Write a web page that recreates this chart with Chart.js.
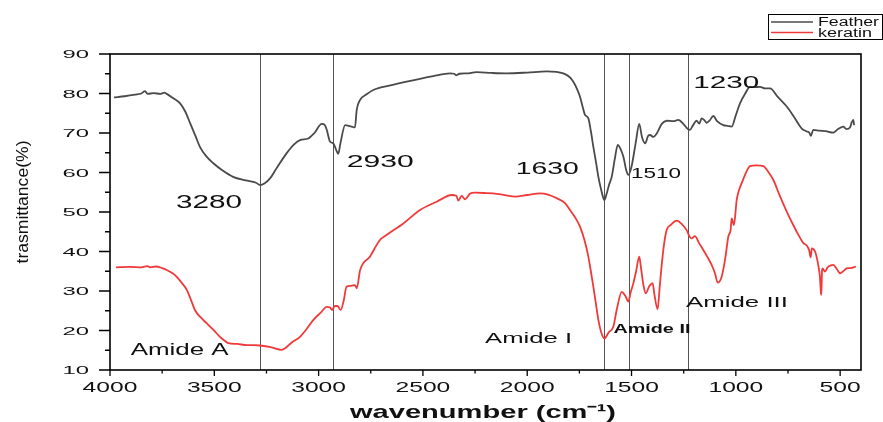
<!DOCTYPE html>
<html>
<head>
<meta charset="utf-8">
<script src="https://cdn.jsdelivr.net/npm/chart.js@4/dist/chart.umd.min.js"></script>
<style>
html,body{margin:0;padding:0;background:#fff;}
#wrap{width:883px;height:422px;position:relative;}
</style>
</head>
<body>
<div id="wrap"><canvas id="c" width="883" height="422"></canvas></div>
<script>
// ---- data (wavenumber cm-1, transmittance %) ----
const featherPoints = [[3981,79.0],[3930,79.3],[3880,79.7],[3850,80.0],[3832,80.6],[3820,79.9],[3790,80.1],[3760,79.9],[3740,80.2],[3728,79.9],[3700,78.9],[3664,77.5],[3640,75.5],[3616,72.5],[3590,69.2],[3569,66.5],[3540,64.2],[3506,62.4],[3460,60.5],[3410,58.9],[3350,58.0],[3300,57.4],[3280,56.8],[3260,57.2],[3233,58.5],[3200,61.2],[3153,64.9],[3120,67.0],[3089,68.2],[3050,68.6],[3020,70.0],[2985,72.3],[2970,72.0],[2961,70.8],[2945,67.8],[2930,67.4],[2915,65.6],[2906,64.7],[2895,67.5],[2873,72.0],[2855,71.8],[2841,71.6],[2826,71.4],[2817,76.0],[2801,78.4],[2770,79.8],[2738,80.9],[2650,82.1],[2578,83.0],[2450,84.4],[2370,85.1],[2350,85.0],[2341,84.6],[2325,85.0],[2290,85.1],[2243,85.4],[2170,85.2],[2099,85.1],[2000,85.3],[1907,85.6],[1860,85.5],[1827,85.1],[1800,84.3],[1779,83.0],[1760,81.0],[1747,79.2],[1735,76.8],[1723,74.6],[1707,73.7],[1695,70.5],[1683,66.5],[1670,62.5],[1659,58.9],[1645,55.5],[1635,53.5],[1630,53.0],[1620,54.5],[1607,57.0],[1595,58.9],[1580,63.5],[1566,67.0],[1553,66.0],[1539,64.0],[1525,60.5],[1515,59.4],[1500,61.5],[1480,67.5],[1463,72.3],[1450,69.0],[1435,67.4],[1420,69.3],[1411,69.5],[1395,69.0],[1379,69.9],[1355,72.3],[1331,73.1],[1300,73.0],[1276,73.3],[1250,72.2],[1230,71.0],[1220,70.8],[1205,72.0],[1188,73.1],[1175,72.4],[1164,73.7],[1150,73.2],[1140,72.6],[1125,73.2],[1108,74.3],[1090,73.0],[1060,72.0],[1040,71.8],[1020,71.6],[1000,74.5],[980,77.5],[955,80.0],[932,81.7],[910,81.6],[884,81.7],[860,81.3],[836,81.3],[800,79.2],[756,76.7],[720,74.0],[685,71.2],[660,70.4],[648,70.1],[640,69.3],[629,70.8],[600,70.6],[570,70.5],[533,70.1],[510,71.0],[485,71.6],[470,71.0],[453,71.4],[445,72.6],[437,73.3],[433,72.0]];

const keratinPoints = [[3971,36.0],[3900,36.1],[3850,36.0],[3820,36.3],[3808,36.0],[3780,36.2],[3750,35.8],[3728,35.3],[3700,34.5],[3680,33.6],[3655,32.0],[3632,30.3],[3610,27.5],[3593,25.2],[3565,23.3],[3536,21.8],[3505,20.2],[3473,18.4],[3450,17.4],[3433,16.8],[3390,16.6],[3345,16.3],[3310,16.3],[3281,16.2],[3230,15.8],[3177,15.1],[3160,15.5],[3130,16.9],[3089,18.4],[3060,20.2],[3025,22.7],[2990,24.5],[2961,26.0],[2945,25.8],[2935,25.2],[2922,26.2],[2910,26.2],[2894,25.2],[2880,27.5],[2866,31.1],[2845,31.3],[2826,31.5],[2817,30.7],[2801,35.3],[2754,38.7],[2706,42.9],[2674,44.2],[2594,47.1],[2514,50.5],[2434,52.6],[2362,54.3],[2340,54.1],[2330,52.9],[2314,54.1],[2298,53.2],[2275,54.6],[2250,54.9],[2200,54.8],[2146,54.6],[2100,54.2],[2058,53.9],[2000,54.3],[1939,54.7],[1900,54.4],[1859,53.5],[1820,52.3],[1795,50.5],[1770,48.6],[1747,46.3],[1725,42.8],[1707,38.7],[1695,35.0],[1683,31.1],[1670,26.5],[1659,22.7],[1645,19.5],[1630,18.0],[1610,19.5],[1587,21.0],[1570,25.5],[1547,29.8],[1530,28.8],[1515,27.3],[1505,29.5],[1491,32.0],[1478,35.0],[1463,38.7],[1455,36.0],[1443,31.5],[1432,29.4],[1415,31.2],[1399,32.0],[1390,29.0],[1375,25.4],[1365,31.0],[1356,36.2],[1345,41.5],[1332,45.4],[1310,46.8],[1284,47.8],[1260,47.0],[1236,45.4],[1222,43.8],[1212,43.3],[1196,43.9],[1175,42.0],[1156,40.4],[1135,38.5],[1116,36.6],[1100,34.5],[1087,32.1],[1068,33.6],[1050,38.5],[1036,43.8],[1025,45.5],[1020,48.4],[1009,46.7],[996,53.0],[985,55.5],[972,57.3],[955,59.5],[932,61.6],[900,61.8],[868,61.6],[845,60.2],[820,58.1],[790,54.2],[756,50.1],[720,46.2],[700,44.2],[676,42.1],[660,41.5],[648,40.2],[641,38.5],[636,40.8],[620,40.0],[613,38.7],[600,35.0],[597,33.6],[592,29.5],[590,29.0],[587,35.0],[584,35.7],[573,34.9],[560,36.0],[545,36.5],[533,36.6],[515,35.5],[500,34.5],[485,35.0],[469,35.7],[450,35.8],[424,36.2]];

const seriesNames = ["Feather", "keratin"];
const markerLines = [3280, 2930, 1630, 1510, 1230];
const xTickValues = [4000, 3500, 3000, 2500, 2000, 1500, 1000, 500];
const xMinorValues = [3750, 3250, 2750, 2250, 1750, 1250, 750];
const yTickValues = [10, 20, 30, 40, 50, 60, 70, 80, 90];
const yMinorValues = [15, 25, 35, 45, 55, 65, 75, 85];
const xTitle = "wavenumber (cm\u207B\u00B9)";
const yTitle = "trasmittance(%)";
// annotation text with anchor (wavenumber of left edge, transmittance of baseline)
const annoText = ["3280", "2930", "1630", "1510", "1230", "Amide A", "Amide I", "Amide II", "Amide III"];
const annoWn   = [3684, 2865, 2055, 1502, 1204, 3901, 2202, 1587, 1239];
const annoT    = [51.0, 61.3, 59.6, 58.7, 81.3, 13.8, 16.9, 19.4, 26.0];

// ---- styles ----
const FAM = '"Liberation Sans", Arial, sans-serif';
const annoStyle = [
  {font: '18px ' + FAM, w: 66},
  {font: '17px ' + FAM, w: 67},
  {font: '16px ' + FAM, w: 63},
  {font: '14px ' + FAM, w: 50},
  {font: '17px ' + FAM, w: 66},
  {font: '16px ' + FAM, w: 98},
  {font: '15px ' + FAM, w: 87},
  {font: 'bold 13px ' + FAM, w: 77},
  {font: '15px ' + FAM, w: 102}
];

function stretchText(ctx, text, x, y, font, targetW, align, color) {
  ctx.save();
  ctx.font = font;
  const w = ctx.measureText(text).width;
  const sx = targetW / w;
  ctx.translate(x, y);
  ctx.scale(sx, 1);
  ctx.textAlign = align;
  ctx.textBaseline = 'alphabetic';
  ctx.fillStyle = color || '#111';
  ctx.fillText(text, 0, 0);
  ctx.restore();
}

const decor = {
  id: 'decor',
  beforeDatasetsDraw(chart) {
    const {ctx, chartArea: a, scales: {x, y}} = chart;
    ctx.save();
    ctx.strokeStyle = '#555';
    ctx.lineWidth = 1;
    markerLines.forEach(v => {
      const px = Math.round(x.getPixelForValue(v)) + 0.5;
      ctx.beginPath(); ctx.moveTo(px, a.top); ctx.lineTo(px, a.bottom); ctx.stroke();
    });
    ctx.restore();
  },
  afterDraw(chart) {
    const {ctx, chartArea: a, scales: {x, y}} = chart;
    ctx.save();
    // frame
    ctx.strokeStyle = '#000';
    ctx.lineWidth = 1.6;
    ctx.strokeRect(a.left, a.top, a.right - a.left, a.bottom - a.top);
    // ticks
    ctx.lineWidth = 1.3;
    ctx.beginPath();
    yTickValues.forEach(v => { const p = y.getPixelForValue(v); ctx.moveTo(a.left - 11, p); ctx.lineTo(a.left, p); });
    yMinorValues.forEach(v => { const p = y.getPixelForValue(v); ctx.moveTo(a.left - 5, p); ctx.lineTo(a.left, p); });
    xTickValues.forEach(v => { const p = x.getPixelForValue(v); ctx.moveTo(p, a.bottom); ctx.lineTo(p, a.bottom + 6); });
    xMinorValues.forEach(v => { const p = x.getPixelForValue(v); ctx.moveTo(p, a.bottom); ctx.lineTo(p, a.bottom + 3.5); });
    ctx.stroke();
    // tick labels
    yTickValues.forEach(v => {
      const p = y.getPixelForValue(v);
      stretchText(ctx, String(v), a.left - 21, p + 4, '11px ' + FAM, 26.5, 'right', '#111');
    });
    xTickValues.forEach(v => {
      const p = x.getPixelForValue(v);
      const s = String(v);
      stretchText(ctx, s, p, a.bottom + 22, '15px ' + FAM, s.length * 13.7, 'center', '#111');
    });
    // axis titles
    stretchText(ctx, xTitle, 350, 418, 'bold 19px ' + FAM, 266, 'left', '#111');
    ctx.save();
    ctx.translate(28, 202);
    ctx.rotate(-Math.PI / 2);
    stretchText(ctx, yTitle, 0, 0, '17px ' + FAM, 123, 'center', '#111');
    ctx.restore();
    // annotations
    annoText.forEach((t, i) => {
      stretchText(ctx, t, x.getPixelForValue(annoWn[i]), y.getPixelForValue(annoT[i]), annoStyle[i].font, annoStyle[i].w, 'left', '#111');
    });
    // legend
    ctx.strokeStyle = '#000';
    ctx.lineWidth = 1;
    ctx.strokeRect(768.5, 14.5, 114, 25);
    const lc = ['#4a4a4a', '#f03a3a'];
    const ly = [22, 32.5];
    seriesNames.forEach((n, i) => {
      ctx.strokeStyle = lc[i];
      ctx.lineWidth = 1.6;
      ctx.beginPath(); ctx.moveTo(771, ly[i]); ctx.lineTo(813, ly[i]); ctx.stroke();
      stretchText(ctx, n, 818, ly[i] + 4, '12px ' + FAM, i === 0 ? 61 : 54, 'left', '#111');
    });
    ctx.restore();
  }
};

const toXY = arr => arr.map(p => ({x: p[0], y: p[1]}));

new Chart(document.getElementById('c'), {
  type: 'line',
  data: {
    datasets: [
      {label: seriesNames[0], data: toXY(featherPoints), borderColor: '#4a4a4a', borderWidth: 1.8, pointRadius: 0, cubicInterpolationMode: 'monotone', fill: false},
      {label: seriesNames[1], data: toXY(keratinPoints), borderColor: '#f03a3a', borderWidth: 1.8, pointRadius: 0, cubicInterpolationMode: 'monotone', fill: false}
    ]
  },
  options: {
    responsive: false,
    animation: false,
    events: [],
    layout: {padding: {top: 54, right: 22, left: 0, bottom: 0}},
    plugins: {legend: {display: false}, tooltip: {enabled: false}},
    scales: {
      x: {
        type: 'linear', reverse: true, min: 400, max: 4000,
        grid: {display: false}, border: {display: false},
        ticks: {display: false},
        afterFit(s) { s.height = 52; }
      },
      y: {
        type: 'linear', min: 10, max: 90,
        grid: {display: false}, border: {display: false},
        ticks: {display: false},
        afterFit(s) { s.width = 110; }
      }
    }
  },
  plugins: [decor]
});
</script>
</body>
</html>
